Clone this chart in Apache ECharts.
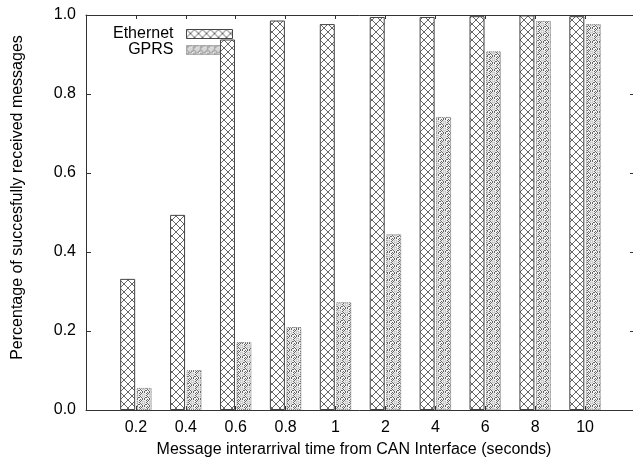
<!DOCTYPE html>
<html>
<head>
<meta charset="utf-8">
<script src="https://cdn.jsdelivr.net/npm/echarts@6/dist/echarts.min.js"></script>
<style>html,body{margin:0;padding:0;background:#fff;}#c{width:633px;height:461px;}</style>
</head>
<body>
<div id="c"></div>
<script>
var categories = ['0.2', '0.4', '0.6', '0.8', '1', '2', '4', '6', '8', '10'];
var ethernet = [0.332, 0.494, 0.938, 0.986, 0.977, 0.995, 0.995, 0.997, 0.999, 0.997];
var gprs = [0.056, 0.101, 0.172, 0.210, 0.273, 0.445, 0.742, 0.908, 0.985, 0.977];
var yTicks = ['0.0', '0.2', '0.4', '0.6', '0.8', '1.0'];

function crossPattern() {
  var c = document.createElement('canvas');
  c.width = 8; c.height = 8;
  var g = c.getContext('2d');
  g.fillStyle = '#fff'; g.fillRect(0, 0, 8, 8);
  g.strokeStyle = '#555'; g.lineWidth = 0.9;
  g.beginPath();
  g.moveTo(0, 0); g.lineTo(8, 8);
  g.moveTo(8, 0); g.lineTo(0, 8);
  g.stroke();
  return c;
}
function dotPattern() {
  var c = document.createElement('canvas');
  c.width = 7; c.height = 7;
  var g = c.getContext('2d');
  g.fillStyle = '#f2f2f2'; g.fillRect(0, 0, 7, 7);
  g.fillStyle = '#666';
  var px = [[0,0],[2,0],[4,0],[6,1],[1,1],[0,2],[6,3],[0,4],[6,5],[1,5],[2,6],[4,6],[5,5]];
  px.forEach(function (p) { g.fillRect(p[0], p[1], 1, 1); });
  g.strokeStyle = '#999'; g.lineWidth = 0.6;
  g.beginPath(); g.arc(3.5, 3.5, 1.4, 0, Math.PI * 2); g.stroke();
  return c;
}

var font = 'Liberation Sans, Arial, Helvetica, sans-serif';
var chart = echarts.init(document.getElementById('c'), null, {renderer: 'canvas'});
var frame = {show: true, onZero: false, lineStyle: {color: '#333', width: 1}};
var crossFill = {image: crossPattern(), repeat: 'repeat'};
var dotFill = {image: dotPattern(), repeat: 'repeat'};
var option = {
  backgroundColor: '#fff',
  animation: false,
  grid: {left: 86, width: 549, top: 15, height: 395, containLabel: false, outerBoundsMode: 'none'},
  legend: {
    orient: 'vertical', left: 108, top: 21, align: 'right', itemGap: 0, z: 1,
    itemWidth: 46, itemHeight: 9, icon: 'rect',
    textStyle: {fontFamily: font, fontSize: 16, color: '#000', width: 60, align: 'right', lineHeight: 16, padding: [0, 8, 0, 0]},
    data: [
      {name: 'Ethernet', itemStyle: {color: crossFill, borderColor: '#444', borderWidth: 1}},
      {name: 'GPRS', itemStyle: {color: dotFill, borderColor: '#777', borderWidth: 1, borderType: 'dotted'}}
    ]
  },
  xAxis: [{
    type: 'value', min: -1, max: 10, interval: 1, position: 'bottom',
    name: 'Message interarrival time from CAN Interface (seconds)',
    nameLocation: 'middle', nameGap: 32,
    nameTextStyle: {fontFamily: font, fontSize: 16, color: '#000', padding: [0, 13, 0, 0]},
    axisLine: frame, splitLine: {show: false},
    axisTick: {show: true, inside: true, length: 4, lineStyle: {color: '#333'}},
    axisLabel: {fontFamily: font, fontSize: 16, color: '#000', margin: 10,
      formatter: function (v) { return (v >= 0 && v < categories.length) ? categories[v] : ''; }}
  }, {
    type: 'value', min: -1, max: 10, interval: 1, position: 'top',
    axisLine: frame, splitLine: {show: false},
    axisTick: {show: true, inside: true, length: 4, lineStyle: {color: '#333'}},
    axisLabel: {show: false}
  }],
  yAxis: [{
    type: 'value', min: 0, max: 1, interval: 0.2, position: 'left',
    name: 'Percentage of succesfully received messages',
    nameLocation: 'middle', nameGap: 60,
    nameTextStyle: {fontFamily: font, fontSize: 16, color: '#000', padding: [0, 0, 0, 30]},
    axisLine: frame, splitLine: {show: false},
    axisTick: {show: true, inside: true, length: 5, lineStyle: {color: '#333'}},
    axisLabel: {fontFamily: font, fontSize: 16, color: '#000', margin: 10,
      formatter: function (v) { return yTicks[Math.round(v * 5)]; }}
  }, {
    type: 'value', min: 0, max: 1, interval: 0.2, position: 'right',
    axisLine: frame, splitLine: {show: false},
    axisTick: {show: true, inside: true, length: 5, lineStyle: {color: '#333'}},
    axisLabel: {show: false}
  }],
  series: [{
    name: 'Ethernet', type: 'bar', xAxisIndex: 0, yAxisIndex: 0,
    barWidth: 15, barGap: '10%',
    itemStyle: {color: crossFill, borderColor: '#444', borderWidth: 1},
    data: ethernet.map(function (v, i) { return [i, v]; })
  }, {
    name: 'GPRS', type: 'bar', xAxisIndex: 0, yAxisIndex: 0,
    barWidth: 15, barGap: '10%',
    itemStyle: {color: dotFill, borderColor: '#777', borderWidth: 1, borderType: 'dotted'},
    data: gprs.map(function (v, i) { return [i, v]; })
  }]
};
chart.setOption(option);
</script>
</body>
</html>
